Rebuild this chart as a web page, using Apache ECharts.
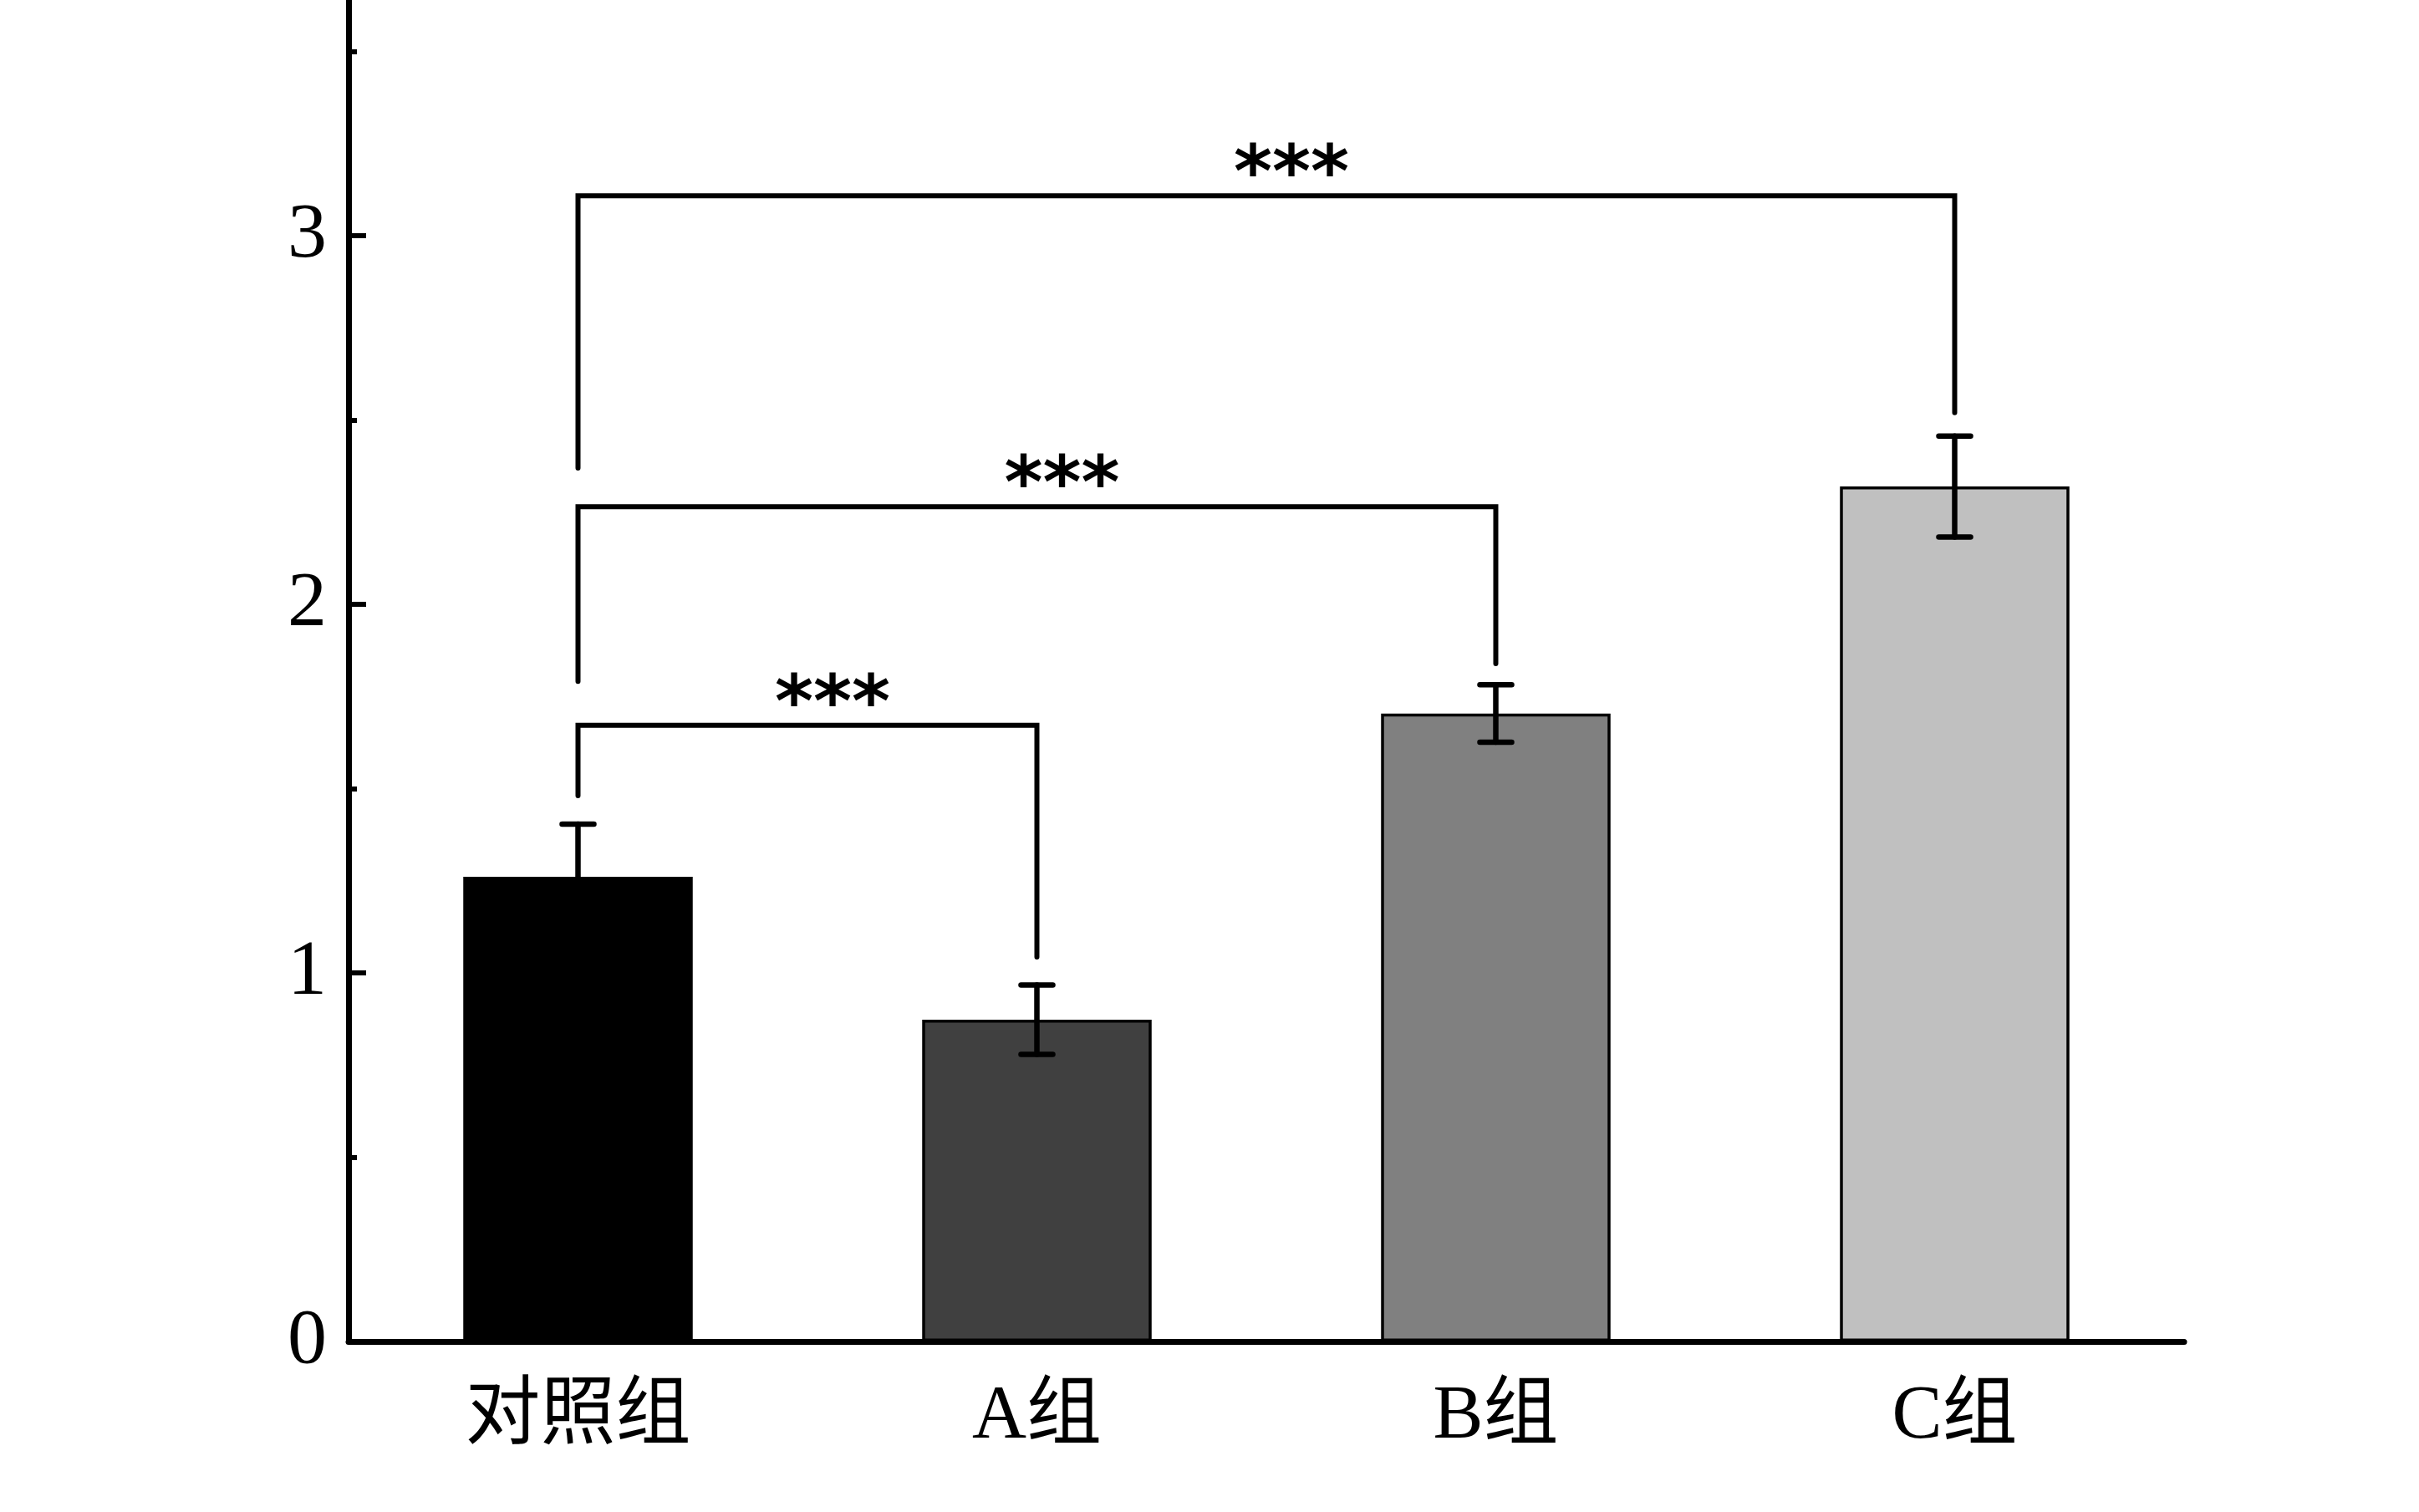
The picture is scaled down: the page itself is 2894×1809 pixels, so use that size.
<!DOCTYPE html>
<html>
<head>
<meta charset="utf-8">
<script src="https://cdn.jsdelivr.net/npm/echarts@6/dist/echarts.min.js"></script>
<style>
  html, body { margin: 0; padding: 0; background: #fff; }
  #chart { width: 2894px; height: 1809px; }
</style>
</head>
<body>
<div id="chart"></div>
<script>
// groups and their means / error (±)
var categories = ['对照组', 'A组', 'B组', 'C组'];
var means = [1.261, 0.873, 1.704, 2.320];
var errors = [0.143, 0.094, 0.078, 0.137];

// significance brackets: from group, to group, bar height, leg ends
var bracketFrom = [0, 0, 0];
var bracketTo = [1, 2, 3];
var bracketTop = [1.672, 2.265, 3.109];
var bracketLeftEnd = [1.481, 1.791, 2.370];
var bracketRightEnd = [1.043, 1.839, 2.520];
var bracketLabels = ['***', '***', '***'];

// y axis ticks
var yTicks = [0, 1, 2, 3];
var yMinorTicks = [0.5, 1.5, 2.5, 3.5];

var barColors = ['#000000', '#404040', '#808080', '#c0c0c0'];
var serifFont = '"Liberation Serif", "Noto Sans CJK SC", serif';

var chart = echarts.init(document.getElementById('chart'));

var barData = means.map(function (v, i) {
  return { value: v, itemStyle: { color: barColors[i] } };
});
var errData = means.map(function (v, i) {
  return [i, v, errors[i]];
});
var bracketData = bracketFrom.map(function (f, i) {
  return [f, bracketTo[i], bracketTop[i], bracketLeftEnd[i], bracketRightEnd[i]];
});

var option = {
  backgroundColor: '#fff',
  animation: false,
  grid: { left: 417, right: 281, top: 0, bottom: 204, containLabel: false },
  xAxis: {
    type: 'category',
    data: categories,
    axisLine: { lineStyle: { color: '#000', width: 7 } },
    axisTick: { show: false },
    axisLabel: {
      color: '#000',
      fontFamily: serifFont,
      fontSize: 90,
      margin: 46
    }
  },
  yAxis: [{
    type: 'value',
    min: 0,
    max: 3.64,
    splitLine: { show: false },
    axisLine: { show: true, lineStyle: { color: '#000', width: 7 } },
    axisTick: {
      show: true, inside: true, length: 21,
      lineStyle: { color: '#000', width: 6 },
      customValues: yTicks
    },
    axisLabel: {
      color: '#000',
      fontFamily: serifFont,
      fontSize: 94,
      margin: 26,
      customValues: yTicks
    }
  }, {
    type: 'value',
    min: 0,
    max: 3.64,
    position: 'left',
    splitLine: { show: false },
    axisLine: { show: false },
    axisLabel: { show: false },
    axisTick: {
      show: true, inside: true, length: 10,
      lineStyle: { color: '#000', width: 6 },
      customValues: yMinorTicks
    }
  }],
  series: [{
    type: 'bar',
    data: barData,
    barWidth: '50%',
    itemStyle: { borderColor: '#000', borderWidth: 3.5 },
    z: 2
  }, {
    type: 'custom',
    data: errData,
    encode: { x: 0, y: 1 },
    z: 3,
    renderItem: function (params, api) {
      var i = api.value(0), m = api.value(1), e = api.value(2);
      var hi = api.coord([i, m + e]);
      var lo = api.coord([i, m - e]);
      var w = 19;
      var st = { stroke: '#000', lineWidth: 6.5, lineCap: 'round' };
      return {
        type: 'group',
        children: [
          { type: 'line', shape: { x1: hi[0], y1: hi[1], x2: lo[0], y2: lo[1] }, style: st },
          { type: 'line', shape: { x1: hi[0] - w, y1: hi[1], x2: hi[0] + w, y2: hi[1] }, style: st },
          { type: 'line', shape: { x1: lo[0] - w, y1: lo[1], x2: lo[0] + w, y2: lo[1] }, style: st }
        ]
      };
    }
  }, {
    type: 'custom',
    data: bracketData,
    encode: { x: [0, 1], y: [2, 3, 4] },
    z: 4,
    renderItem: function (params, api) {
      var a = api.value(0), b = api.value(1), top = api.value(2);
      var p1 = api.coord([a, api.value(3)]);
      var p2 = api.coord([a, top]);
      var p3 = api.coord([b, top]);
      var p4 = api.coord([b, api.value(4)]);
      return {
        type: 'group',
        children: [{
          type: 'polyline',
          shape: { points: [p1, p2, p3, p4] },
          style: { stroke: '#000', lineWidth: 6, fill: null, lineCap: 'round', lineJoin: 'miter' }
        }, {
          type: 'text',
          style: {
            text: bracketLabels[params.dataIndex],
            x: (p2[0] + p3[0]) / 2 + 30,
            y: p2[1] - 22,
            align: 'center',
            verticalAlign: 'middle',
            font: 'bold 88px "DejaVu Sans"',
            fill: '#000'
          }
        }]
      };
    }
  }]
};

chart.setOption(option);
</script>
</body>
</html>
